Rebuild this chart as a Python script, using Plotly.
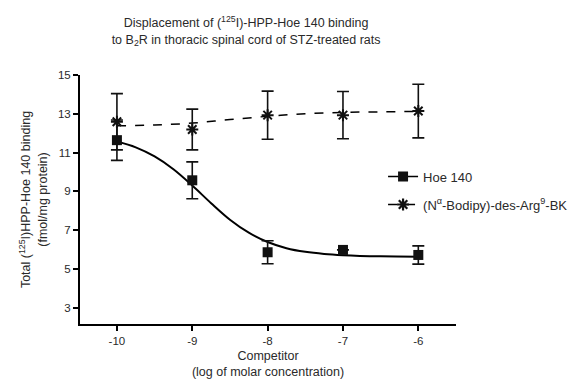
import plotly.graph_objects as go

# Data
x_log = [-10, -9, -8, -7, -6]
hoe_mean = [11.64, 9.57, 5.86, 5.98, 5.72]
hoe_err = [1.04, 0.95, 0.59, 0.0, 0.47]
bod_mean = [12.59, 12.19, 12.93, 12.93, 13.14]
bod_err = [1.45, 1.05, 1.24, 1.22, 1.38]

# fitted curves
hoe_fit_x = [-10, -9.75, -9.5, -9.25, -9, -8.75, -8.5, -8.25, -8, -7.75, -7.5, -7.25, -7, -6.5, -6]
hoe_fit_y = [11.57, 11.27, 10.80, 10.14, 9.30, 8.39, 7.54, 6.87, 6.39, 6.07, 5.88, 5.77, 5.71, 5.65, 5.63]
bod_fit_x = [-10, -9.5, -9, -8.5, -8, -7.5, -7, -6.5, -6]
bod_fit_y = [12.38, 12.42, 12.52, 12.70, 12.87, 13.00, 13.07, 13.10, 13.12]

x_ticks = [-10, -9, -8, -7, -6]
x_ticktext = ["-10", "-9", "-8", "-7", "-6"]
y_ticks = [3, 5, 7, 9, 11, 13, 15]

FONT = "Liberation Sans, Arial, sans-serif"
TXT = "#2a2a2a"

fig = go.Figure()

fig.add_trace(go.Scatter(x=hoe_fit_x, y=hoe_fit_y, mode="lines", line=dict(color="black", width=2, shape="spline"),
                         showlegend=False, hoverinfo="skip"))
fig.add_trace(go.Scatter(x=bod_fit_x, y=bod_fit_y, mode="lines", line=dict(color="black", width=1.5, dash="dash", shape="spline"),
                         showlegend=False, hoverinfo="skip"))

fig.add_trace(go.Scatter(x=x_log, y=hoe_mean, mode="markers",
                         marker=dict(symbol="square", size=10, color="#111"),
                         error_y=dict(type="data", array=hoe_err, color="#111", thickness=1.6, width=6),
                         showlegend=False))
fig.add_trace(go.Scatter(x=x_log, y=bod_mean, mode="markers",
                         marker=dict(symbol="asterisk-open", size=10, color="#111", line=dict(width=2, color="#111")),
                         error_y=dict(type="data", array=bod_err, color="#111", thickness=1.6, width=6),
                         showlegend=False))

# legend entries
fig.add_trace(go.Scatter(x=[None], y=[None], mode="lines+markers", name="Hoe 140", legendgroup="a",
                         line=dict(color="black", width=1.5),
                         marker=dict(symbol="square", size=10, color="#111")))
fig.add_trace(go.Scatter(x=[None], y=[None], mode="lines+markers",
                         name="(N<sup>α</sup>-Bodipy)-des-Arg<sup>9</sup>-BK", legendgroup="b",
                         line=dict(color="black", width=1.5, dash="dash"),
                         marker=dict(symbol="asterisk-open", size=10, color="#111", line=dict(width=2.2, color="#111"))))

fig.update_layout(
    width=571, height=379,
    margin=dict(l=80, r=115, t=75, b=55, autoexpand=False),
    paper_bgcolor="white", plot_bgcolor="white",
    font=dict(family=FONT, size=11, color=TXT),
    title=dict(text="Displacement of (<sup>125</sup>I)-HPP-Hoe 140 binding<br>to B<sub>2</sub>R in thoracic spinal cord of STZ-treated rats",
               x=0.431, xanchor="center", y=0.928, yanchor="top", font=dict(size=12.5, color=TXT)),
    legend=dict(x=0.806, xanchor="left", y=0.652, yanchor="top", bgcolor="rgba(0,0,0,0)",
                font=dict(size=13, color=TXT), traceorder="grouped", tracegroupgap=8,
                itemwidth=30),
    xaxis=dict(range=[-10.49, -5.5], tickvals=x_ticks, ticktext=x_ticktext, showgrid=False, zeroline=False,
               showline=True, linecolor="black", linewidth=2, ticks="outside", ticklen=5, tickwidth=1.5,
               tickcolor="black", tickfont=dict(size=11.5, color=TXT), automargin=False,
               title=dict(text="Competitor<br>(log of molar concentration)", font=dict(size=12.5, color=TXT), standoff=10)),
    yaxis=dict(range=[2.16, 15], tickvals=y_ticks, showgrid=False, zeroline=False,
               showline=True, linecolor="black", linewidth=2, ticks="outside", ticklen=5, tickwidth=1.5,
               tickcolor="black", tickfont=dict(size=11.5, color=TXT), automargin=False,
               title=dict(text="Total (<sup>125</sup>I)HPP-Hoe 140 binding<br>(fmol/mg protein)", font=dict(size=12.5, color=TXT), standoff=8)),
)

fig.write_html("out.html", config={"displayModeBar": False},
               post_script="document.body.style.margin='0';document.body.style.overflow='hidden';")
